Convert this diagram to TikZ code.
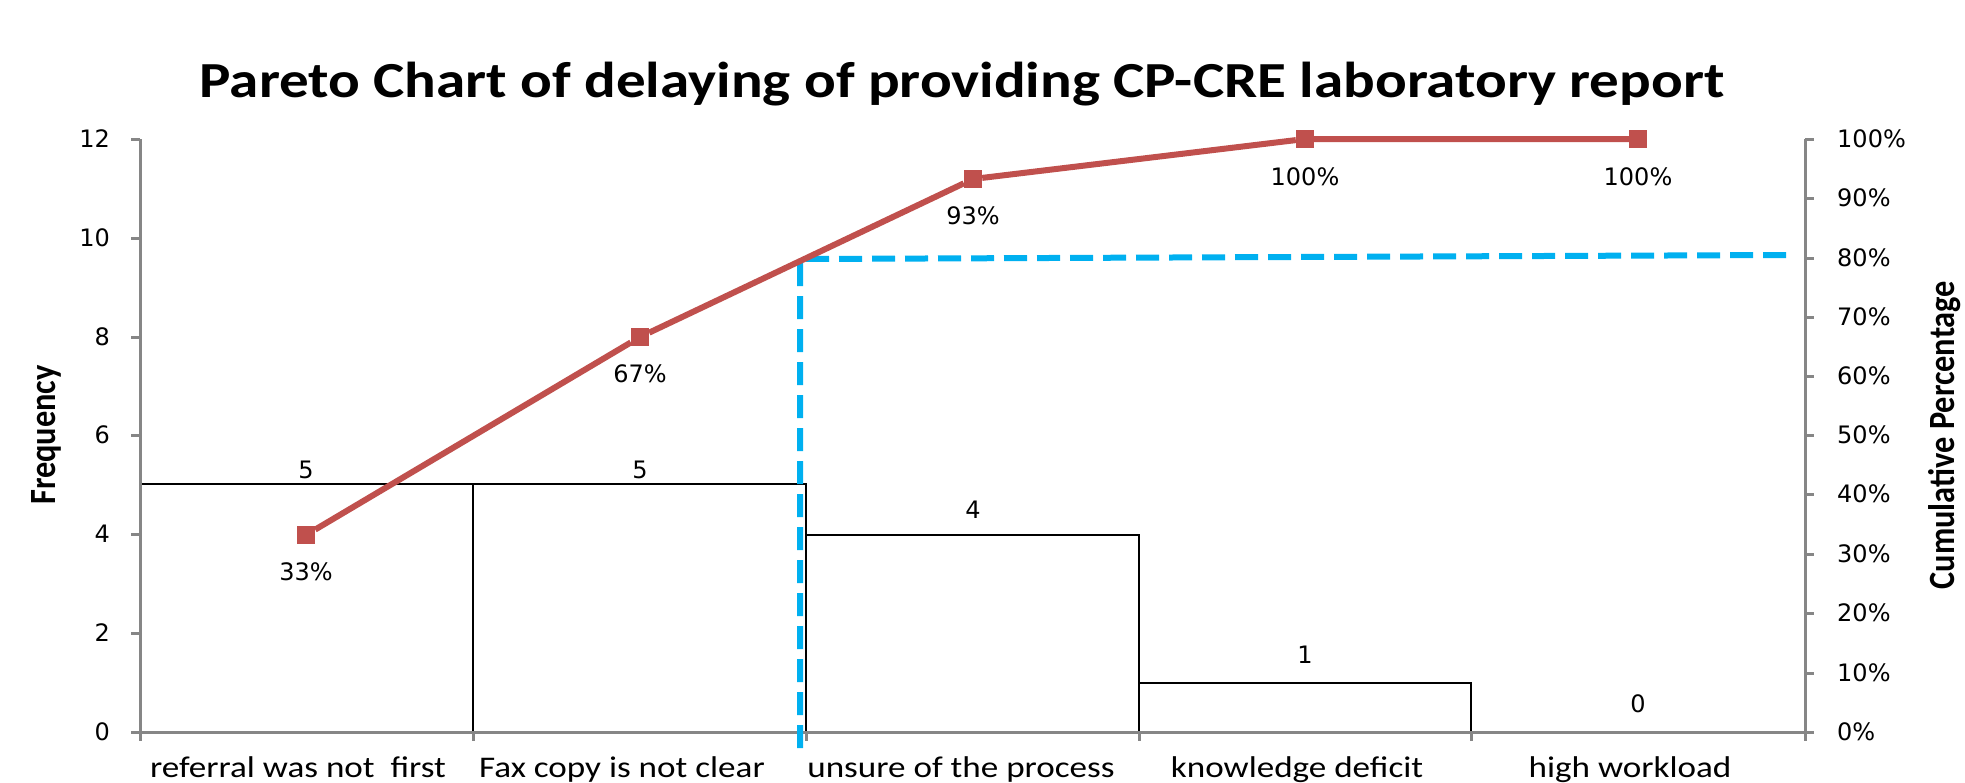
\documentclass[tikz,border=0pt]{standalone}
\usepackage{fontspec}
\setmainfont{Carlito}
\newfontfamily\numfont{DejaVu Sans}
\newfontfamily\widefont[FakeStretch=1.17]{Carlito}
\newfontfamily\tallfont[FakeStretch=0.875]{Carlito}
\definecolor{paretored}{HTML}{C0504D}
\definecolor{cutblue}{HTML}{00B0F0}
\definecolor{axisgray}{HTML}{868686}
\tikzset{
  axisline/.style={draw=axisgray, line width=3pt},
  barbox/.style={draw=black, line width=2pt},
  numlabel/.style={font=\numfont\fontsize{24}{28}\selectfont, inner sep=0pt},
  catlabel/.style={font=\widefont\fontsize{30}{34}\selectfont, inner sep=0pt, anchor=base},
  axistitle/.style={font=\tallfont\bfseries\fontsize{37}{40}\selectfont, inner sep=0pt, rotate=90},
  cummark/.style={rectangle, fill=paretored, minimum size=18pt, inner sep=0pt},
  cumline/.style={draw=paretored, line width=6pt},
  cutline/.style={draw=cutblue, line width=6pt, dash pattern=on 23pt off 10pt},
}
\begin{document}
\begin{tikzpicture}[x=1pt,y=-1pt]
\useasboundingbox (0,0) rectangle (1965,782);
\begin{scope}
\clip (0,0) rectangle (1965,782);
\node[font=\widefont\bfseries\fontsize{57}{60}\selectfont, anchor=base west, inner sep=0pt] (fig) at (134,-12) {(Figure 1)};
\end{scope}
\node[font=\widefont\bfseries\fontsize{50.5}{54}\selectfont, anchor=base, inner sep=0pt] (title) at (962,97) {Pareto Chart of delaying of providing CP-CRE laboratory report};
\draw[barbox] (140,732) rectangle (473,484);
\draw[barbox] (473,732) rectangle (806,484);
\draw[barbox] (806,732) rectangle (1139,535);
\draw[barbox] (1139,732) rectangle (1471,683);
\draw[axisline] (140,139) -- (140,732) -- (1805,732) -- (1805,139);
\draw[axisline] (131,139) -- (140,139) (131,238) -- (140,238) (131,337) -- (140,337) (131,435) -- (140,435) (131,534) -- (140,534) (131,633) -- (140,633) (131,732) -- (140,732);
\draw[axisline] (140,732) -- (140,741) (473,732) -- (473,741) (806,732) -- (806,741) (1139,732) -- (1139,741) (1471,732) -- (1471,741) (1805,732) -- (1805,741);
\draw[axisline] (1805,139) -- (1814,139) (1805,198) -- (1814,198) (1805,258) -- (1814,258) (1805,317) -- (1814,317) (1805,376) -- (1814,376) (1805,435) -- (1814,435) (1805,494) -- (1814,494) (1805,554) -- (1814,554) (1805,613) -- (1814,613) (1805,673) -- (1814,673) (1805,732) -- (1814,732);
\node[numlabel, anchor=east] (f12) at (110,139) {12};
\node[numlabel, anchor=east] (f10) at (110,238) {10};
\node[numlabel, anchor=east] (f8) at (110,337) {8};
\node[numlabel, anchor=east] (f6) at (110,435) {6};
\node[numlabel, anchor=east] (f4) at (110,534) {4};
\node[numlabel, anchor=east] (f2) at (110,633) {2};
\node[numlabel, anchor=east] (f0) at (110,732) {0};
\node[numlabel, anchor=west] (p100) at (1837,139) {100\%};
\node[numlabel, anchor=west] (p90) at (1837,198) {90\%};
\node[numlabel, anchor=west] (p80) at (1837,258) {80\%};
\node[numlabel, anchor=west] (p70) at (1837,317) {70\%};
\node[numlabel, anchor=west] (p60) at (1837,376) {60\%};
\node[numlabel, anchor=west] (p50) at (1837,435) {50\%};
\node[numlabel, anchor=west] (p40) at (1837,494) {40\%};
\node[numlabel, anchor=west] (p30) at (1837,554) {30\%};
\node[numlabel, anchor=west] (p20) at (1837,613) {20\%};
\node[numlabel, anchor=west] (p10) at (1837,673) {10\%};
\node[numlabel, anchor=west] (p0) at (1837,732) {0\%};
\node[axistitle] (ytitle) at (46,435) {Frequency};
\node[axistitle] (cumtitle) at (1945,435) {Cumulative Percentage};
\node[numlabel] (v1) at (306,470) {5};
\node[numlabel] (v2) at (640,470) {5};
\node[numlabel] (v3) at (973,510) {4};
\node[numlabel] (v4) at (1305,655) {1};
\node[numlabel] (v5) at (1638,704) {0};
\node[catlabel] (c1) at (298,777) {referral was not\ \ first};
\node[catlabel] (c2) at (622,777) {Fax copy is not clear};
\node[catlabel] (c3) at (961,777) {unsure of the process};
\node[catlabel] (c4) at (1297,777) {knowledge deficit};
\node[catlabel] (c5) at (1630,777) {high workload};
\coordinate (cutlow) at (800,748);
\coordinate (cutcorner) at (800,259);
\coordinate (cutend) at (1790,255);
\draw[cutline] (cutlow) -- (cutcorner) -- (cutend);
\node[cummark] (m1) at (306,535) {};
\node[cummark] (m2) at (640,337) {};
\node[cummark] (m3) at (973,179) {};
\node[cummark] (m4) at (1305,139) {};
\node[cummark] (m5) at (1638,139) {};
\draw[cumline] (m1) -- (m2) -- (m3) -- (m4) -- (m5);
\node[numlabel] (q1) at (306,572) {33\%};
\node[numlabel] (q2) at (640,374) {67\%};
\node[numlabel] (q3) at (973,216) {93\%};
\node[numlabel] (q4) at (1305,177) {100\%};
\node[numlabel] (q5) at (1638,177) {100\%};
\end{tikzpicture}
\end{document}
